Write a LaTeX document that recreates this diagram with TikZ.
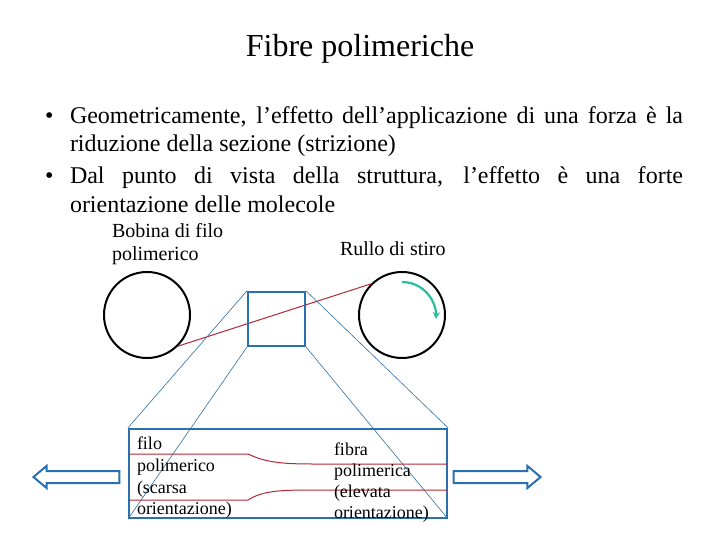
\documentclass[tikz,border=0pt]{standalone}
\usepackage{fontspec}
\setmainfont{Liberation Serif}
\usetikzlibrary{shapes.arrows,arrows.meta}
\definecolor{sblue}{RGB}{40,112,175}
\definecolor{tblue}{RGB}{50,110,160}
\definecolor{dred}{RGB}{180,40,55}
\definecolor{teal1}{RGB}{40,190,160}
\tikzset{
  txt/.style={anchor=base west, inner sep=0pt, outer sep=0pt},
  big/.style={font=\fontsize{24}{28}\selectfont},
  mid/.style={font=\fontsize{20}{23}\selectfont},
  sml/.style={font=\fontsize{18}{21}\selectfont},
  roll/.style={circle, draw=black, line width=2pt, minimum size=86pt, inner sep=0pt},
  thin/.style={draw=tblue, line width=0.6pt},
  redl/.style={draw=dred, line width=1pt},
  hollow/.style={single arrow, draw=sblue, fill=white, line width=2pt, inner xsep=0pt, inner ysep=5pt,
     single arrow head extend=5pt, single arrow tip angle=80},
}
\begin{document}
\begin{tikzpicture}[x=1pt,y=-1pt]
\useasboundingbox[fill=white] (0,0) rectangle (720,540);
% title
\node[anchor=base, inner sep=0pt, font=\fontsize{32}{36}\selectfont] (title) at (360,57) {Fibre polimeriche};
% bullets
\node[txt,big] (b1) at (45,124) {•};
\node[txt,big] (l1) at (70,124) {\makebox[613pt][s]{Geometricamente, l’effetto dell’applicazione di una forza è la}};
\node[txt,big] (l2) at (70,152) {riduzione della sezione (strizione)};
\node[txt,big] (b2) at (45,184) {•};
\node[txt,big] (l3) at (70,184) {\makebox[613pt][s]{Dal punto di vista della struttura, l’effetto è una forte}};
\node[txt,big] (l4) at (70,212) {orientazione delle molecole};
% labels
\node[txt,mid] (bob1) at (112,237) {Bobina di filo};
\node[txt,mid] (bob2) at (112,260) {polimerico};
\node[txt,mid] (rul) at (340,255) {Rullo di stiro};
% rolls
\node[roll] (bob) at (147,315) {};
\node[roll] (rullo) at (402,315) {};
\draw[redl] (bob.-45) -- (rullo.135);
\draw[teal1, line width=2.2pt, -{Stealth[length=7pt,width=7pt]}] (402,282) arc[start angle=-90, end angle=5, radius=34];
% zoom square and box
\node[draw=sblue, line width=2.2pt, minimum width=57pt, minimum height=54pt, inner sep=0pt] (sq) at (276.5,319) {};
\node[draw=sblue, line width=2.2pt, minimum width=318pt, minimum height=89pt, inner sep=0pt] (box) at (288,473.5) {};
\draw[thin] (sq.north west) -- (box.north west);
\draw[thin] (sq.south west) -- (box.south west);
\draw[thin] (sq.north east) -- (box.north east);
\draw[thin] (sq.south east) -- (box.south east);
% fibres
\coordinate (t0) at (129,454);
\coordinate (t1) at (248,454);
\coordinate (t2) at (313,464);
\coordinate (t3) at (447,464);
\coordinate (u0) at (129,500);
\coordinate (u1) at (248,500);
\coordinate (u2) at (310,490);
\coordinate (u3) at (447,490);
\draw[redl] (t0) -- (t1) .. controls (265,462) and (280,464) .. (t2) -- (t3);
\draw[redl] (u0) -- (u1) .. controls (262,491) and (280,490) .. (u2) -- (u3);
% texts in box
\node[txt,sml] (f1) at (137,449) {filo};
\node[txt,sml] (f2) at (137,471) {polimerico};
\node[txt,sml] (f3) at (137,493) {(scarsa};
\node[txt,sml] (f4) at (137,514) {orientazione)};
\node[txt,sml] (g1) at (334,455) {fibra};
\node[txt,sml] (g2) at (334,476) {polimerica};
\node[txt,sml] (g3) at (334,497) {(elevata};
\node[txt,sml] (g4) at (334,518) {orientazione)};
% hollow arrows
\node[hollow, minimum height=86pt, shape border rotate=180] (al) at (80,477) {};
\node[hollow, minimum height=87pt] (ar) at (493.5,477) {};
\end{tikzpicture}
\end{document}
